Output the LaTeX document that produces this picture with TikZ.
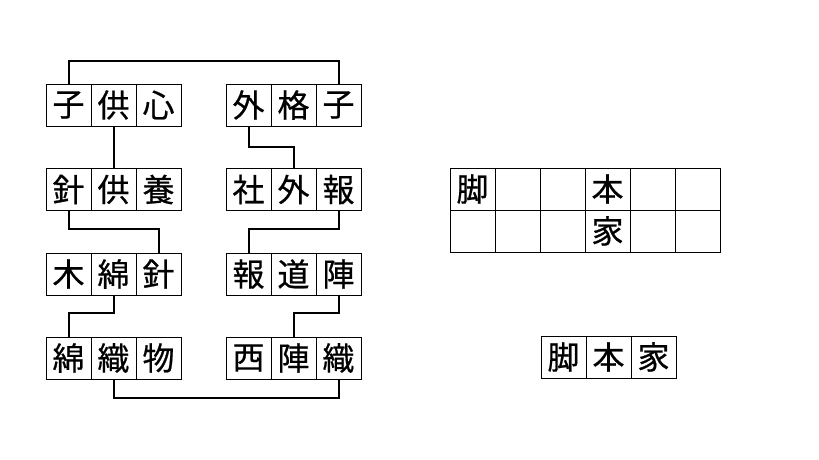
\documentclass[tikz,border=0pt]{standalone}
\usepackage{fontspec}
\newfontfamily\cjk[FakeBold=0.6]{Noto Sans CJK JP}
\begin{document}
\begin{tikzpicture}[x=1pt,y=-1pt,
  cell/.style={draw=black,line width=1pt,minimum width=45pt,minimum height=42pt,inner sep=0pt,font=\cjk\fontsize{32}{32}\selectfont},
  conn/.style={draw=black,line width=2pt}]
\useasboundingbox[fill=white] (0,0) rectangle (819,460);
\node[cell] (L1a) at (68.5,105) {子};
\node[cell] (L1b) at (113.5,105) {供};
\node[cell] (L1c) at (158.5,105) {心};
\node[cell] (R1a) at (248.5,105) {外};
\node[cell] (R1b) at (293.5,105) {格};
\node[cell] (R1c) at (338.5,105) {子};
\node[cell] (L2a) at (68.5,189.5) {針};
\node[cell] (L2b) at (113.5,189.5) {供};
\node[cell] (L2c) at (158.5,189.5) {養};
\node[cell] (R2a) at (248.5,189.5) {社};
\node[cell] (R2b) at (293.5,189.5) {外};
\node[cell] (R2c) at (338.5,189.5) {報};
\node[cell] (L3a) at (68.5,274) {木};
\node[cell] (L3b) at (113.5,274) {綿};
\node[cell] (L3c) at (158.5,274) {針};
\node[cell] (R3a) at (248.5,274) {報};
\node[cell] (R3b) at (293.5,274) {道};
\node[cell] (R3c) at (338.5,274) {陣};
\node[cell] (L4a) at (68.5,358) {綿};
\node[cell] (L4b) at (113.5,358) {織};
\node[cell] (L4c) at (158.5,358) {物};
\node[cell] (R4a) at (248.5,358) {西};
\node[cell] (R4b) at (293.5,358) {陣};
\node[cell] (R4c) at (338.5,358) {織};
% connectors
\draw[conn] (L1a.north) -- ++(0,-22) -| (R1c.north);
\draw[conn] (L1b.south) -- (L2b.north);
\draw[conn] (R1a.south) -- ++(0,20) -| (R2b.north);
\draw[conn] (L2a.south) -- ++(0,18) -| (L3c.north);
\draw[conn] (R2c.south) -- ++(0,18) -| (R3a.north);
\draw[conn] (L3b.south) -- ++(0,17) -| (L4a.north);
\draw[conn] (R3c.south) -- ++(0,17) -| (R4b.north);
\draw[conn] (L4b.south) -- ++(0,18) -| (R4c.south);
% grid on the right
\node[cell] (G11) at (472.5,189) {脚};
\node[cell] (G12) at (517.5,189) {};
\node[cell] (G13) at (562.5,189) {};
\node[cell] (G14) at (607.5,189) {本};
\node[cell] (G15) at (652.5,189) {};
\node[cell] (G16) at (697.5,189) {};
\node[cell] (G21) at (472.5,231) {};
\node[cell] (G22) at (517.5,231) {};
\node[cell] (G23) at (562.5,231) {};
\node[cell] (G24) at (607.5,231) {家};
\node[cell] (G25) at (652.5,231) {};
\node[cell] (G26) at (697.5,231) {};
% result word
\node[cell] (W1) at (563.5,357) {脚};
\node[cell] (W2) at (608.5,357) {本};
\node[cell] (W3) at (653.5,357) {家};
\end{tikzpicture}
\end{document}
